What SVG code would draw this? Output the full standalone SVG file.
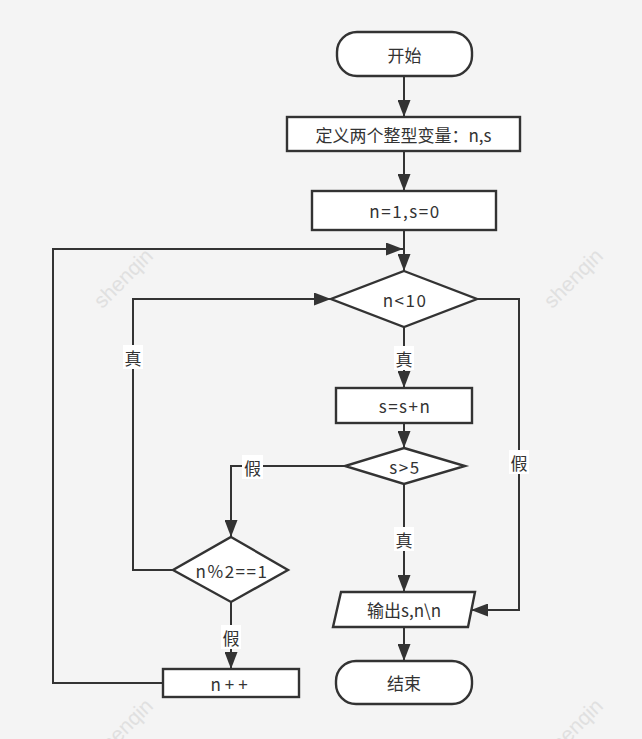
<svg xmlns="http://www.w3.org/2000/svg" width="642" height="739" viewBox="0 0 642 739">
<defs>
<style>
.shape{fill:#fff;stroke:#333;stroke-width:2.4}
.conn{fill:none;stroke:#333;stroke-width:2}
.t{font-family:"Noto Sans CJK SC","Liberation Sans",sans-serif;font-size:17px;fill:#333;text-anchor:middle;dominant-baseline:central}
.sp{letter-spacing:1.5px}
.wm{font-family:"Liberation Sans",sans-serif;font-size:21px;fill:#e0e0e0;text-anchor:middle;dominant-baseline:central}
.lb{fill:#fff}
</style>
<marker id="arr" markerUnits="userSpaceOnUse" markerWidth="18" markerHeight="13" refX="17" refY="6.5" orient="auto">
<path d="M0,0 L17,6.5 L0,13 z" fill="#333"/>
</marker>
</defs>
<rect x="0" y="0" width="642" height="739" fill="#f4f4f4"/>
<g id="watermarks">
<text class="wm" transform="translate(123,278) rotate(-45)">shenqin</text>
<text class="wm" transform="translate(573,278) rotate(-45)">shenqin</text>
<text class="wm" transform="translate(573,728) rotate(-45)">shenqin</text>
<text class="wm" transform="translate(123,728) rotate(-45)">shenqin</text>
</g>
<g id="connectors">
<path class="conn" d="M404,76 L404,117" marker-end="url(#arr)"/>
<path class="conn" d="M404,151 L404,191" marker-end="url(#arr)"/>
<path class="conn" d="M404,230 L404,271" marker-end="url(#arr)"/>
<path class="conn" d="M163,683 L53,683 L53,249 L403,249" marker-end="url(#arr)"/>
<path class="conn" d="M173,570 L133,570 L133,299 L331,299" marker-end="url(#arr)"/>
<path class="conn" d="M477,299 L519,299 L519,610 L471,610" marker-end="url(#arr)"/>
<path class="conn" d="M404,327 L404,388" marker-end="url(#arr)"/>
<path class="conn" d="M404,423 L404,448" marker-end="url(#arr)"/>
<path class="conn" d="M345,466 L231,466 L231,537" marker-end="url(#arr)"/>
<path class="conn" d="M404,484 L404,592" marker-end="url(#arr)"/>
<path class="conn" d="M231,602 L231,669" marker-end="url(#arr)"/>
<path class="conn" d="M404,627 L404,661" marker-end="url(#arr)"/>
<g id="labels">
<rect class="lb" x="123" y="345" width="20" height="24"/><text class="t" x="133" y="357">真</text>
<rect class="lb" x="394" y="346" width="20" height="24"/><text class="t" x="404" y="358">真</text>
<rect class="lb" x="509" y="450" width="20" height="24"/><text class="t" x="519" y="462">假</text>
<rect class="lb" x="242" y="455" width="21" height="24"/><text class="t" x="252.5" y="467">假</text>
<rect class="lb" x="394" y="527" width="20" height="24"/><text class="t" x="404" y="539">真</text>
<rect class="lb" x="221" y="625" width="20" height="24"/><text class="t" x="231" y="637">假</text>
</g>
</g>
<g id="start"><rect class="shape" x="337" y="32" width="135" height="44" rx="20"/><text class="t" x="404.5" y="54">开始</text></g>
<g id="define"><rect class="shape" x="287" y="117" width="233" height="34"/><text class="t" x="403.5" y="134">定义两个整型变量：n,s</text></g>
<g id="init"><rect class="shape" x="312" y="191" width="184" height="39"/><text class="t sp" x="405" y="210.5">n=1,s=0</text></g>
<g id="cond1"><polygon class="shape" points="404,271 477,299 404,327 331,299"/><text class="t sp" x="405" y="299">n&lt;10</text></g>
<g id="sum"><rect class="shape" x="336" y="388" width="136" height="35"/><text class="t sp" x="405" y="405.5">s=s+n</text></g>
<g id="cond2"><polygon class="shape" points="404,448 465,466 404,484 345,466"/><text class="t sp" x="405" y="466">s&gt;5</text></g>
<g id="cond3"><polygon class="shape" points="231,537 288,570 231,602 173,570"/><text class="t sp" x="232" y="570">n%2==1</text></g>
<g id="inc"><rect class="shape" x="163" y="669" width="136" height="28"/><text class="t" x="231" y="683" letter-spacing="4">n++</text></g>
<g id="output"><polygon class="shape" points="341,592 475,592 468,627 333,627"/><text class="t" x="404" y="609.5">输出s,n\n</text></g>
<g id="end"><rect class="shape" x="336" y="661" width="136" height="43" rx="20"/><text class="t" x="404" y="682.5">结束</text></g>
</svg>
